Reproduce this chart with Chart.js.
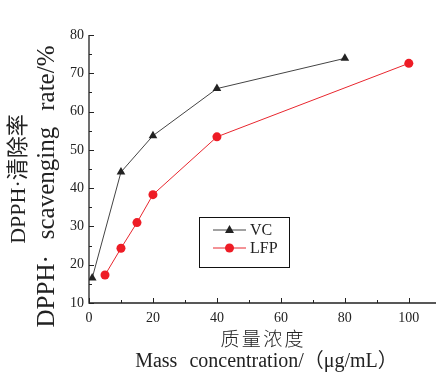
<!DOCTYPE html>
<html><head><meta charset="utf-8">
<script src="https://cdn.jsdelivr.net/npm/chart.js@4/dist/chart.umd.min.js"></script>
<style>html,body{margin:0;padding:0;background:#fff;}#wrap{width:437px;height:374px;position:relative;}</style>
</head><body><div id="wrap"><canvas id="c" width="437" height="374"></canvas></div>
<script>
const vcX = [1, 10, 20, 40, 80];
const vcY = [16.5, 44.2, 53.7, 66.0, 73.9];
const lfpX = [5, 10, 15, 20, 40, 100];
const lfpY = [17.3, 24.3, 31.0, 38.3, 53.4, 72.6];
const seriesNames = ['VC', 'LFP'];
const xTicks = [0, 20, 40, 60, 80, 100];
const yTicks = [10, 20, 30, 40, 50, 60, 70, 80];
const yTitle = ['DPPH·清除率', 'DPPH· scavenging rate/%'];
const xTitle = ['质量浓度', 'Mass concentration/（μg/mL）'];

const SERIF = '"Liberation Serif", "Noto Sans CJK SC", serif';
const CJK = '300 19px "Noto Sans CJK SC", serif';

function drawWords(ctx, text, cx, cy, gap, font) {
  ctx.font = font;
  ctx.textAlign = 'left';
  const words = text.split(' ');
  const ws = words.map(w => ctx.measureText(w).width);
  const sum = ws.reduce((a, b) => a + b, 0);
  const total = sum + gap * (words.length - 1);
  let x = cx - total / 2;
  words.forEach((w, i) => { ctx.fillText(w, x, cy); x += ws[i] + gap; });
}
function spaced(ctx, text, cx, cy, target, font) {
  ctx.font = font;
  ctx.textAlign = 'left';
  const chars = [...text];
  const ws = chars.map(c => ctx.measureText(c).width);
  const sum = ws.reduce((a, b) => a + b, 0);
  const gap = Math.max(0, (target - sum) / (chars.length - 1));
  let x = cx - target / 2;
  chars.forEach((c, i) => { ctx.fillText(c, x, cy); x += ws[i] + gap; });
}

const decor = {
  id: 'decor',
  afterDraw(chart) {
    const ctx = chart.ctx, xs = chart.scales.x, ys = chart.scales.y;
    const x0 = xs.getPixelForValue(0), yb = ys.getPixelForValue(10), yt = ys.getPixelForValue(80);
    const xr = xs.getPixelForValue(xs.max);
    ctx.save();
    ctx.strokeStyle = '#222'; ctx.lineWidth = 1.3;
    ctx.beginPath();
    ctx.moveTo(x0, yt); ctx.lineTo(x0, yb); ctx.lineTo(xr, yb);
    ctx.stroke();
    ctx.lineWidth = 1;
    for (let v = 0; v <= 100; v += 10) {
      const px = Math.round(xs.getPixelForValue(v)) + 0.5;
      const len = (v % 20 === 0) ? 5 : 3;
      ctx.beginPath(); ctx.moveTo(px, yb); ctx.lineTo(px, yb - len); ctx.stroke();
    }
    for (let v = 10; v <= 80; v += 5) {
      const py = Math.round(ys.getPixelForValue(v)) + 0.5;
      const len = (v % 10 === 0) ? 5 : 3;
      ctx.beginPath(); ctx.moveTo(x0, py); ctx.lineTo(x0 + len, py); ctx.stroke();
    }
    ctx.fillStyle = '#222';
    ctx.textBaseline = 'middle';
    ctx.save();
    ctx.translate(19, 179); ctx.rotate(-Math.PI / 2);
    ctx.font = '22px ' + SERIF; ctx.textAlign = 'center';
    ctx.fillText(yTitle[0], 0, 0);
    ctx.restore();
    ctx.save();
    ctx.translate(47, 186.5); ctx.rotate(-Math.PI / 2);
    drawWords(ctx, yTitle[1], 0, 0, 16, '25px ' + SERIF);
    ctx.restore();
    spaced(ctx, xTitle[0], 262, 339, 83, CJK);
    drawWords(ctx, xTitle[1], 266.5, 362, 12, '20px ' + SERIF);
    // legend
    const bx = 199, by = 217, bw = 90, bh = 50;
    ctx.strokeStyle = '#111'; ctx.lineWidth = 1;
    ctx.strokeRect(bx + 0.5, by + 0.5, bw, bh);
    const ds = chart.data.datasets;
    const rows = [230, 248];
    ds.forEach((d, i) => {
      const yy = rows[i];
      ctx.strokeStyle = d.borderColor; ctx.lineWidth = 1;
      ctx.beginPath(); ctx.moveTo(213, yy); ctx.lineTo(246, yy); ctx.stroke();
      ctx.fillStyle = d.pointBackgroundColor;
      ctx.beginPath();
      if (d.pointStyle === 'triangle') {
        ctx.moveTo(229.5, yy - 5); ctx.lineTo(234, yy + 3); ctx.lineTo(225, yy + 3); ctx.closePath();
      } else {
        ctx.arc(229.5, yy, 4.5, 0, Math.PI * 2);
      }
      ctx.fill();
      ctx.fillStyle = '#222';
      ctx.textAlign = 'left';
      ctx.font = '16px ' + SERIF;
      ctx.fillText(d.label, 250, yy + 1);
    });
    ctx.restore();
  }
};

new Chart(document.getElementById('c'), {
  type: 'scatter',
  data: {
    datasets: [
      {
        label: seriesNames[0],
        data: vcX.map((x, i) => ({x, y: vcY[i]})),
        showLine: true,
        borderColor: '#444', borderWidth: 1,
        pointStyle: 'triangle', pointRadius: 5,
        pointBackgroundColor: '#222', pointBorderColor: '#222', pointBorderWidth: 0
      },
      {
        label: seriesNames[1],
        data: lfpX.map((x, i) => ({x, y: lfpY[i]})),
        showLine: true,
        borderColor: '#e8262e', borderWidth: 1,
        pointStyle: 'circle', pointRadius: 4.5,
        pointBackgroundColor: '#ee1c25', pointBorderColor: '#ee1c25', pointBorderWidth: 0
      }
    ]
  },
  options: {
    responsive: false, animation: false,
    layout: { autoPadding: false, padding: { top: 35, right: 1, left: 0, bottom: 0 } },
    plugins: { legend: { display: false }, tooltip: { enabled: false } },
    scales: {
      x: {
        type: 'linear', min: 0, max: 108.5,
        afterBuildTicks(s) { s.ticks = xTicks.map(v => ({value: v})); },
        afterFit(s) { s.height = 71; s.paddingLeft = 0; s.paddingRight = 0; },
        grid: { display: false, drawTicks: false }, border: { display: false },
        ticks: { color: '#222', padding: 7, maxRotation: 0, font: { family: SERIF, size: 14 } }
      },
      y: {
        type: 'linear', min: 10, max: 80,
        afterBuildTicks(s) { s.ticks = yTicks.map(v => ({value: v})); },
        afterFit(s) { s.width = 89; s.paddingTop = 0; s.paddingBottom = 0; },
        grid: { display: false, drawTicks: false }, border: { display: false },
        ticks: { color: '#222', padding: 5, font: { family: SERIF, size: 14 } }
      }
    }
  },
  plugins: [decor]
});
</script></body></html>
